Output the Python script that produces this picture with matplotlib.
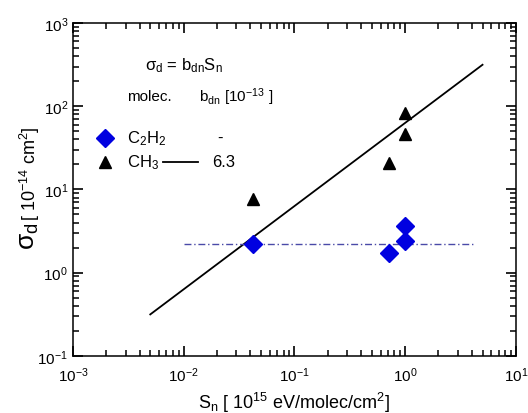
import matplotlib
matplotlib.use("Agg")
import matplotlib.pyplot as plt
from matplotlib.ticker import LogLocator, NullFormatter

plt.rcParams['font.family'] = ['Liberation Sans', 'DejaVu Sans']
plt.rcParams['mathtext.fontset'] = 'custom'
plt.rcParams['mathtext.rm'] = 'Liberation Sans'
plt.rcParams['mathtext.it'] = 'Liberation Sans'
plt.rcParams['mathtext.bf'] = 'Liberation Sans'

# measured points (S_n in 1e15 eV/molec/cm^2, sigma_d in 1e-14 cm^2)
c2h2_s = [0.042, 0.72, 1.0, 1.0]
c2h2_sig = [2.2, 1.7, 2.4, 3.6]
ch3_s = [0.042, 0.72, 1.0, 1.0]
ch3_sig = [7.7, 20.5, 47, 82]

# linear fit sigma = b * S for CH3, b = 6.3e-13
b_ch3 = 63.0
fit_s = [0.005, 5.0]
fit_sig = [b_ch3 * s for s in fit_s]

# C2H2 mean level
c2h2_s_range = [0.01, 4.3]
c2h2_level = 2.2

fig = plt.figure(figsize=(5.28, 4.14), dpi=100)
ax = fig.add_axes([0.138, 0.138, 0.839, 0.804])

ax.plot(fit_s, fit_sig, color='black', lw=1.3)
ax.plot(c2h2_s_range, [c2h2_level, c2h2_level], color='#4a4aa8', lw=1.0,
        dashes=(5, 2, 1, 2))
ax.plot(c2h2_s, c2h2_sig, 'D', color='#0000e0', ms=9, mec='#0000e0', ls='none')
ax.plot(ch3_s, ch3_sig, '^', color='black', ms=9, ls='none')

ax.set_xscale('log')
ax.set_yscale('log')
ax.set_xlim(1e-3, 10)
ax.set_ylim(0.1, 1000)
for a in (ax.xaxis, ax.yaxis):
    a.set_major_locator(LogLocator(base=10, numticks=20))
    a.set_minor_locator(LogLocator(base=10, subs=range(2, 10), numticks=20))
    a.set_minor_formatter(NullFormatter())

ax.tick_params(which='both', direction='in', top=True, right=True, labelsize=11)
ax.tick_params(which='major', length=7, width=1.2, color='black')
ax.tick_params(which='minor', length=4.5, width=1.1, color='black')
ax.tick_params(axis='x', pad=7)
for sp in ax.spines.values():
    sp.set_linewidth(1.1)

ax.set_xlabel(r'S$_n$ [ 10$^{15}$ eV/molec/cm$^2$]', fontsize=13, labelpad=4)
fig.text(0.055, 0.43, r'$\sigma_d$', rotation=90, fontsize=19, ha='center', va='center')
fig.text(0.057, 0.58, r'[ 10$^{-14}$ cm$^2$]', rotation=90, fontsize=13, ha='center', va='center')

# legend block
ax.text(0.163, 0.874, r'$\sigma_d$ = b$_{dn}$S$_n$', transform=ax.transAxes,
        fontsize=12, va='center')
ax.text(0.122, 0.781, 'molec.', transform=ax.transAxes, fontsize=11, va='center')
ax.text(0.284, 0.781, r'b$_{dn}$ [10$^{-13}$ ]', transform=ax.transAxes, fontsize=11, va='center')
ax.plot([0.072], [0.655], 'D', color='#0000e0', ms=9, transform=ax.transAxes)
ax.text(0.122, 0.655, r'C$_2$H$_2$', transform=ax.transAxes, fontsize=12, va='center')
ax.text(0.327, 0.655, '-', transform=ax.transAxes, fontsize=12, va='center')
ax.plot([0.072], [0.583], '^', color='black', ms=9, transform=ax.transAxes)
ax.text(0.122, 0.583, r'CH$_3$', transform=ax.transAxes, fontsize=12, va='center')
ax.plot([0.203, 0.282], [0.583, 0.583], color='black', lw=1.3, transform=ax.transAxes)
ax.text(0.314, 0.583, str(b_ch3 / 10), transform=ax.transAxes, fontsize=12, va='center')

fig.savefig('out.png', dpi=100)
